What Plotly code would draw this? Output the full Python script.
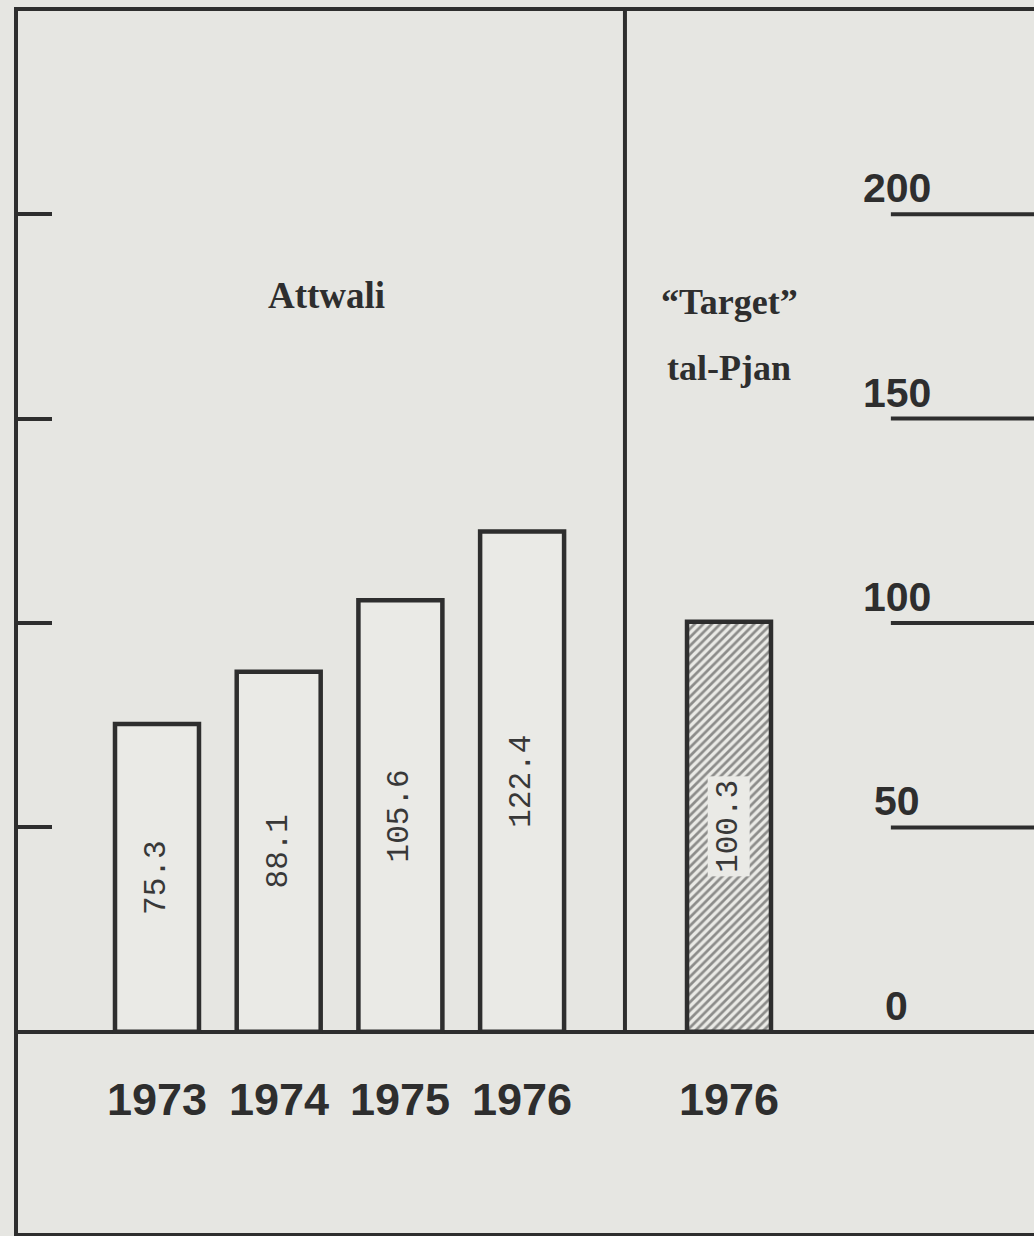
import plotly.graph_objects as go

# ---- data ----
actual_years = ["1973", "1974", "1975", "1976"]
actual_values = [75.3, 88.1, 105.6, 122.4]
target_years = ["1976"]
target_values = [100.3]
tick_values = [0, 50, 100, 150, 200]
left_tick_values = [50, 100, 150, 200]
group_actual = "Attwali"
group_target = ["“Target”", "tal-Pjan"]

# ---- style ----
BG = "#e6e6e2"
BAR_BG = "#eaeae6"
INK = "#2e2e2e"
SANS = "Liberation Sans, Arial, sans-serif"
SERIF = "Liberation Serif, Times New Roman, serif"
MONO = "Liberation Mono, Courier New, monospace"

x_actual = list(range(len(actual_values)))
x_target = [len(actual_values) + 0.7]
bar_w = 0.69

fig = go.Figure()
fig.add_trace(go.Bar(
    x=x_actual, y=actual_values, width=bar_w,
    marker=dict(color=BAR_BG, line=dict(color=INK, width=4.5)),
    hoverinfo="skip", showlegend=False,
))
fig.add_trace(go.Bar(
    x=x_target, y=target_values, width=bar_w,
    marker=dict(color=BAR_BG, line=dict(color=INK, width=4.5),
                pattern=dict(shape="/", fgcolor=INK, bgcolor=BAR_BG,
                             size=6, solidity=0.45)),
    hoverinfo="skip", showlegend=False,
))

annotations = []
# value labels inside bars (rotated)
for xv, v in zip(x_actual, actual_values):
    annotations.append(dict(x=xv, y=v / 2, xref="x", yref="y", text=f"{v:.1f}",
                            textangle=-90, showarrow=False,
                            font=dict(family=MONO, size=31, color="#383838")))
for xv, v in zip(x_target, target_values):
    annotations.append(dict(x=xv, y=v / 2, xref="x", yref="y", text=f"{v:.1f}",
                            textangle=-90, showarrow=False, bgcolor=BAR_BG,
                            borderpad=3,
                            font=dict(family=MONO, size=31, color="#383838")))
# year labels
for xv, yr in zip(x_actual + x_target, actual_years + target_years):
    annotations.append(dict(x=xv, y=-16.5, xref="x", yref="y", text=f"<b>{yr}</b>",
                            showarrow=False,
                            font=dict(family=SANS, size=45, color=INK)))
# group labels
annotations.append(dict(x=1.39, y=180, xref="x", yref="y", text=f"<b>{group_actual}</b>",
                        showarrow=False, font=dict(family=SERIF, size=37, color=INK)))
annotations.append(dict(x=x_target[0], y=178.5, xref="x", yref="y",
                        text=f"<b>{group_target[0]}</b>",
                        showarrow=False, font=dict(family=SERIF, size=36, color=INK)))
annotations.append(dict(x=x_target[0], y=162.5, xref="x", yref="y",
                        text=f"<b>{group_target[1]}</b>",
                        showarrow=False, font=dict(family=SERIF, size=36, color=INK)))
# right scale labels
for t in tick_values:
    annotations.append(dict(x=6.08, y=t, xref="x", yref="y", text=f"<b>{t}</b>",
                            yanchor="bottom", yshift=1, showarrow=False,
                            font=dict(family=SANS, size=41, color=INK)))

shapes = []
# right scale lines
for t in tick_values[1:]:
    shapes.append(dict(type="line", xref="x", yref="y", x0=6.03, x1=7.3, y0=t, y1=t,
                       line=dict(color=INK, width=4)))
# divider between actual and target
shapes.append(dict(type="line", xref="x", yref="y", x0=3.845, x1=3.845, y0=0, y1=260,
                   line=dict(color=INK, width=4)))

fig.update_layout(
    width=1034, height=1236,
    margin=dict(l=18, r=0, t=11, b=3),
    paper_bgcolor=BG, plot_bgcolor=BG,
    barmode="overlay",
    annotations=annotations, shapes=shapes,
    xaxis=dict(range=[-1.142, 7.206], showgrid=False, zeroline=False,
               showticklabels=False, ticks="", showline=True, mirror=True,
               linecolor=INK, linewidth=4),
    yaxis=dict(range=[-49.2, 249.7], showgrid=False, showticklabels=False,
               zeroline=True, zerolinecolor=INK, zerolinewidth=4,
               tickmode="array", tickvals=left_tick_values, ticks="inside",
               ticklen=34, tickwidth=4, tickcolor=INK,
               showline=True, linecolor=INK, linewidth=4, mirror=False),
)

fig.write_html(
    "out.html",
    config={"displayModeBar": False},
    post_script="document.body.style.margin='0';document.body.style.background='%s';" % BG,
)
